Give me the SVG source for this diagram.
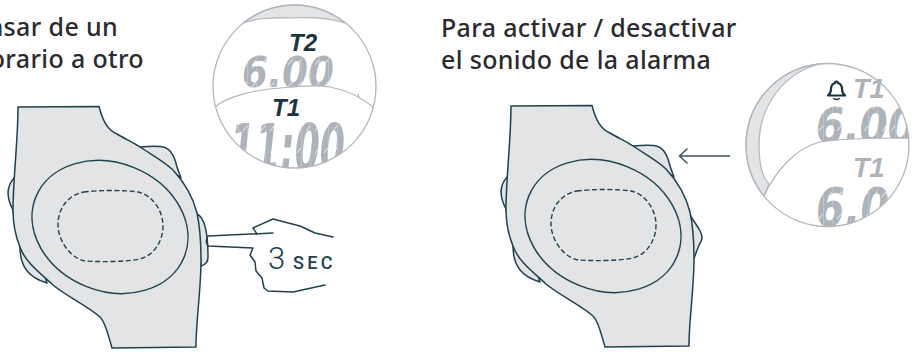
<svg xmlns="http://www.w3.org/2000/svg" xmlns:xlink="http://www.w3.org/1999/xlink" width="919" height="352" viewBox="0 0 919 352">
<style>
.h{font-family:"Noto Sans","Liberation Sans",sans-serif;font-size:25px;font-weight:500;letter-spacing:.35px;fill:#2a2a30}
.o{fill:#e2e4e6;stroke:#22404e;stroke-width:1.5;stroke-linejoin:round}
.l{fill:none;stroke:#22404e;stroke-width:1.5;stroke-linejoin:round;stroke-linecap:round}
.d{fill:none;stroke:#22404e;stroke-width:1.4;stroke-dasharray:5 2.6}
.lens{fill:none;stroke:#b1b7bd;stroke-width:1.3}
.s{fill:#e2e4e6;stroke:#b1b7bd;stroke-width:1.2}
.w{fill:#fff;stroke:#b1b7bd;stroke-width:1.2}
.t{font-family:"Liberation Sans",Arial,sans-serif;font-weight:700;font-style:italic}
.seg{font-family:"DejaVu Sans",sans-serif;font-weight:700;font-style:oblique;fill:url(#lcd)}
</style>
<defs>
<pattern id="lcd" patternUnits="userSpaceOnUse" width="9" height="22">
<rect width="9" height="22" fill="#adb3b9"/>
<rect x="4" width=".7" height="22" fill="#fff" opacity=".3"/>
<path d="M0,21 L4,16" stroke="#fff" stroke-width=".8"/>
</pattern>
<clipPath id="c1"><circle cx="294.5" cy="86.5" r="81.5"/></clipPath>
<clipPath id="c2"><circle cx="827.5" cy="145" r="81.5"/></clipPath>
<g id="body">
<path class="o" d="M18,107 L99,106.5 C103,122 108,130 117,134 C125,139 133,142 140,147 C152,155 165,162 173,170 C185,183 193,197 197,213 C201,232 201,246 201,260 C201,290 196,320 196,347 L112,348 C108,335 106,323 100,317 C88,306 66,296 53,285 C40,273 25,262 20,247 C15,235 13,222 13,210 C13,180 18,140 18,107Z"/>
<ellipse class="l" cx="110" cy="227" rx="80" ry="64" transform="rotate(22 110 227)"/>
<path class="d" d="M84,192 C100,190 125,190 138,192 C152,195 163,210 163,226 C163,240 155,255 140,259 C125,262 100,262 85,261 C70,258 58,240 58,225 C58,208 68,195 84,192Z"/>
</g>
</defs>
<g id="heading-left"><text class="h" x="118" y="36" text-anchor="end">Pasar de un</text><text class="h" x="144" y="68" text-anchor="end">horario a otro</text></g>
<g id="heading-right"><text class="h" x="441" y="37">Para activar / desactivar</text><text class="h" x="441" y="69">el sonido de la alarma</text></g>
<g id="watch-left">
<path class="o" d="M15,177 C7,185 5,195 13,210 L20,247 C20,268 30,278 47,283 Z"/>
<path class="o" d="M140,147 C165,145 170,146 175,160 C177,168 179,173 181,178 Z"/>
<path class="o" d="M197,214 C206,218 208,240 208,257 C208,263 205,265 201,266 Z"/>
<use xlink:href="#body" href="#body"/>
</g>
<g id="watch-right">
<g transform="translate(493 -1)">
<path class="o" d="M15,177 C7,185 5,195 13,210 L20,247 C20,268 30,278 47,283 Z"/>
<path class="o" d="M140,147 C165,145 170,146 175,160 C177,168 179,173 181,178 Z"/>
<path class="o" d="M197,216 L206,230 C210,237 210,240 206,246 L200,262 Z"/>
<use xlink:href="#body" href="#body"/>
</g>
</g>
<g id="hand">
<path class="l" d="M273,233 L208,236 C206,239 206,243 208,246 L253,248 L250,255 L255,262 L256,271 L262,278 L264,288 L268,291 L293,292 L325,285"/>
<path class="l" d="M257,234 L253,228 L273,219 L300,226 L315,233 L333,237"/>
<text x="268" y="269" font-family="Roboto,'Liberation Sans',sans-serif" font-size="31" font-weight="300" fill="#22404e">3</text>
<text x="293" y="269" font-family="Roboto,'Liberation Sans',sans-serif" font-size="18" font-weight="500" letter-spacing="3.4" fill="#22404e">SEC</text>
</g>
<g id="lens-left">
<circle cx="294.5" cy="86.5" r="81.5" fill="#fff"/>
<path class="s" d="M243,23 C260,17 275,18 290,18 C310,17 330,18 345,23 C330,11 312,5 294.5,5 C275,5 258,11 243,23Z"/>
<text class="t" x="289" y="51" font-size="24" fill="#1c3340">T2</text>
<g clip-path="url(#c1)"><text class="seg" x="242" y="87" font-size="43" textLength="92" lengthAdjust="spacingAndGlyphs">6.00</text></g>
<g clip-path="url(#c1)">
<path class="w" d="M215,107 C225,98 250,90 280,88 C300,86 320,85 330,87 C345,90 360,96 373,107 L373,180 L215,180Z"/>
<path d="M358,94 L359,98" stroke="#b1b7bd" stroke-width="1.3"/>
<text class="seg" x="230" y="171" font-size="66" textLength="115" lengthAdjust="spacingAndGlyphs">11:00</text>
</g>
<text class="t" x="272" y="116" font-size="24" fill="#1c3340">T1</text>
<circle class="lens" cx="294.5" cy="86.5" r="81.5"/>
</g>
<g id="lens-right">
<circle cx="827.5" cy="145" r="81.5" fill="#fff"/>
<path class="s" d="M820,64 C785,72 759,105 759,145 C759,165 763,178 769,184 L764,196 C752,182 746,165 746,145 C746,100 782,64 827.5,63.5 Z"/>
<g clip-path="url(#c2)"><text class="seg" x="816" y="143" font-size="50" textLength="100" lengthAdjust="spacingAndGlyphs">6.00</text></g>
<g clip-path="url(#c2)">
<path class="w" d="M764,196 C775,172 795,148 820,142 C845,138 880,138 909,138 L912,240 L760,240Z"/>
<text class="seg" x="816" y="226" font-size="54" textLength="102" lengthAdjust="spacingAndGlyphs">6.00</text>
</g>
<text class="t" x="853" y="98" font-size="27" fill="#adb3b9">T1</text>
<text class="t" x="853" y="177" font-size="27" fill="#adb3b9">T1</text>
<path d="M836.5,81.5 C837.5,81.5 838,82 838,83 C841,84 842,86 842,89 C842,92 843,94 845,95.5 L828,95.5 C830,94 831,92 831,89 C831,86 832,84 835,83 C835,82 835.5,81.5 836.5,81.5Z" fill="none" stroke="#1c3340" stroke-width="2.2" stroke-linejoin="round"/>
<path d="M833.5,98 C834.5,100 838.5,100 839.5,98" fill="none" stroke="#1c3340" stroke-width="1.6"/>
<circle class="lens" cx="827.5" cy="145" r="81.5"/>
</g>
<g id="connectors">
<path d="M730,156 L680,156 M687.5,148.5 L679.5,156 L687.5,163.5" fill="none" stroke="#3f5560" stroke-width="1.5"/>
</g>
</svg>
